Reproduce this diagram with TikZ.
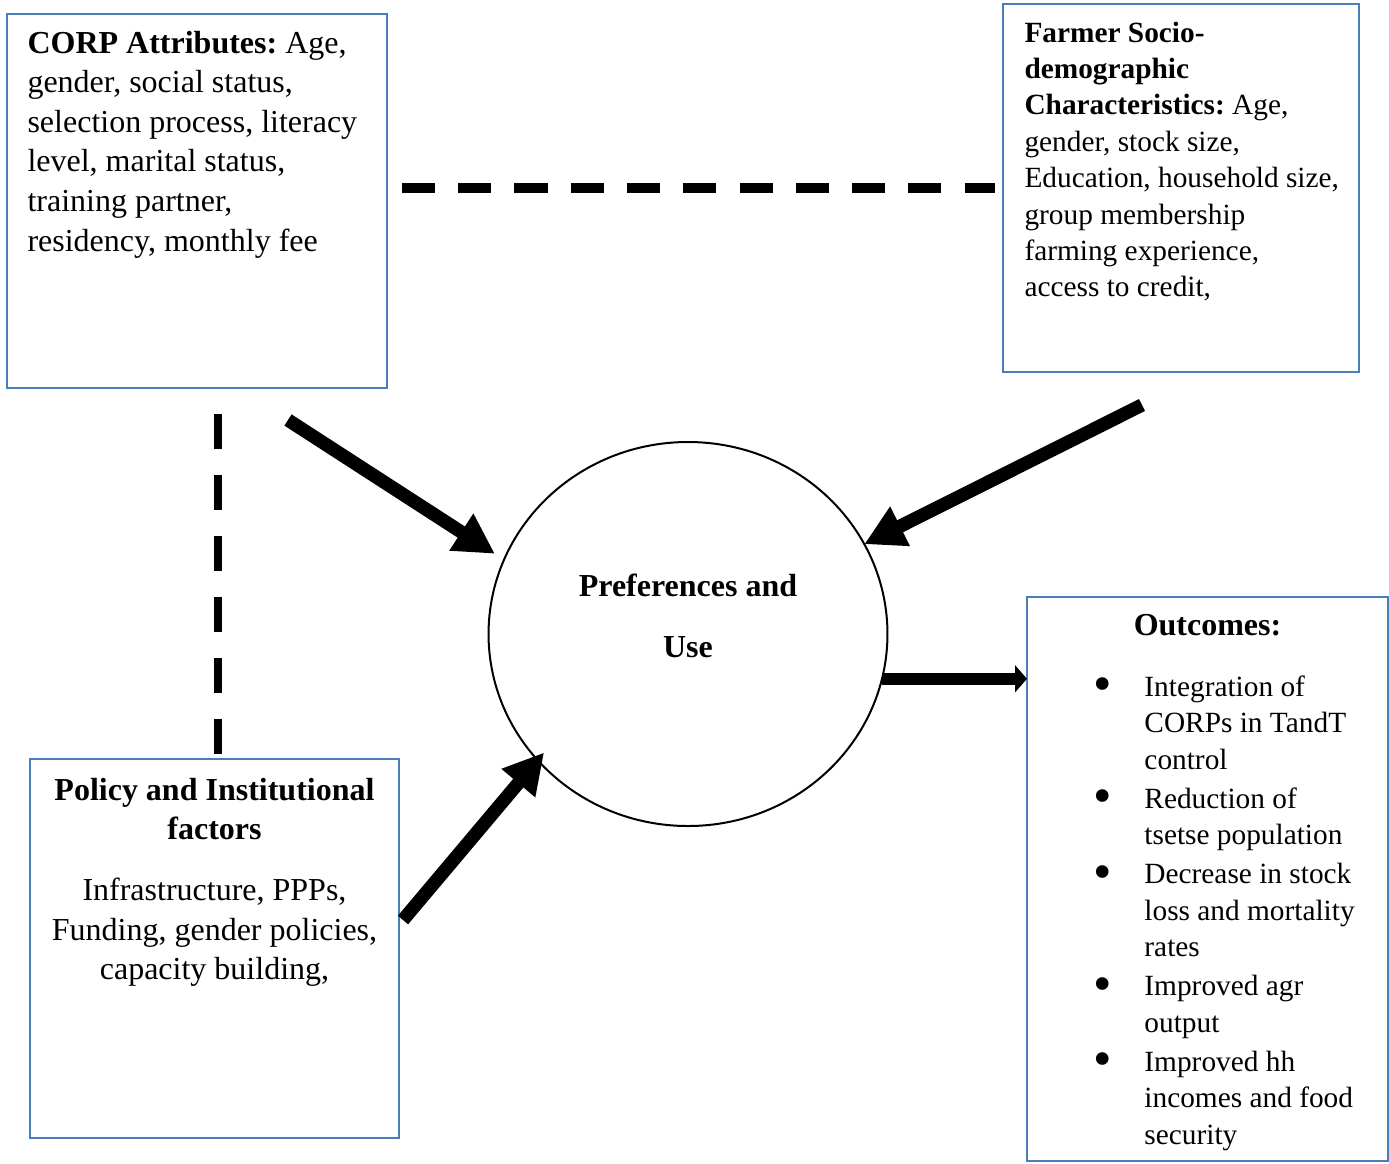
\documentclass[tikz,border=0pt]{standalone}
\usepackage{fontspec}
\setmainfont{Liberation Serif}
\usepackage{xcolor}
\usepackage{graphicx}
\definecolor{cBox}{HTML}{4A7EBB}
\usepackage{tikz}
\usetikzlibrary{positioning,arrows.meta,shapes.geometric}
\newcommand{\outbullet}{\hspace*{-1.5pt}\raisebox{-2.1pt}{\scalebox{1.8}{\textbullet}}}
\frenchspacing
\tikzset{
  frame-box/.style={draw=cBox,line width=0.75pt,anchor=north west,
    inner sep=0pt,outer sep=0pt},
  body-text/.style={inner sep=0pt,anchor=base west,
    font=\fontsize{12pt}{14.85pt}\selectfont},
  hub/.style={draw,ellipse,line width=0.75pt,inner sep=0pt,outer sep=0pt,
    minimum width=149.6pt,minimum height=144pt},
  arrow-big/.style={line width=5pt,-{Triangle[length=15pt,width=15.5pt]}},
  arrow-small/.style={line width=4.5pt,-{Triangle[length=4.5pt,width=10pt]}},
  link-h/.style={line width=3.4pt,dash pattern=on 12.4pt off 8.7pt},
  link-v/.style={line width=3pt,dash pattern=on 13.1pt off 9.75pt},
}

\begin{document}
\frenchspacing
\begin{tikzpicture}[x=0.375pt,y=-0.375pt]
  \useasboundingbox (0,0) rectangle (1389,1163);
  % boxes
  \node[frame-box,minimum width=142.5pt,minimum height=140.25pt] (corp)   at (7,14)    {};
  \node[frame-box,minimum width=133.5pt,minimum height=138pt]    (farmer) at (1003,4)  {};
  \node[frame-box,minimum width=138.4pt,minimum height=142.1pt]  (policy) at (30,759)  {};
  \node[frame-box,minimum width=135.4pt,minimum height=211.5pt]  (out)    at (1027,597) {};
  \node[hub] (pref) at (688,634) {};
  % texts
  \node[body-text] (corp-text) at (27,53) {\begin{tabular}[t]{@{}l@{}}
    \textbf{CORP Attributes:} Age,\\ gender, social status,\\
    selection process, literacy\\ level, marital status,\\
    training partner,\\ residency, monthly fee\end{tabular}};
  \node[body-text,font=\fontsize{11pt}{13.65pt}\selectfont] (farmer-text) at (1024,42) {\begin{tabular}[t]{@{}l@{}}
    \textbf{Farmer Socio-}\\ \textbf{demographic}\\ \textbf{Characteristics:} Age,\\
    gender, stock size,\\ Education, household size,\\ group membership\\
    farming experience,\\ access to credit,\end{tabular}};
  \node[body-text,anchor=base,font=\fontsize{12pt}{14.8pt}\selectfont] (policy-text) at (214.5,800) {\begin{tabular}[t]{@{}c@{}}
    \textbf{Policy and Institutional}\\ \textbf{factors}\\[8.1pt]
    Infrastructure, PPPs,\\ Funding, gender policies,\\ capacity building,\end{tabular}};
  \node[body-text,anchor=base,font=\bfseries\fontsize{12pt}{22.9pt}\selectfont] (pref-text) at (688,596) {\begin{tabular}[t]{@{}c@{}}
    Preferences and\\ Use\end{tabular}};
  \node[body-text,anchor=base,font=\bfseries\fontsize{12pt}{14pt}\selectfont] (out-title) at (1207.5,635) {Outcomes:};
  \node[body-text,font=\fontsize{11pt}{13.7pt}\selectfont] (out-list) at (1097,696) {\begin{tabular}[t]{@{}p{17.6pt}@{}l@{}}
    \outbullet & Integration of\\ & CORPs in TandT\\ & control\\[0.94pt]
    \outbullet & Reduction of\\ & tsetse population\\[0.94pt]
    \outbullet & Decrease in stock\\ & loss and mortality\\ & rates\\[0.94pt]
    \outbullet & Improved agr\\ & output\\[0.94pt]
    \outbullet & Improved hh\\ & incomes and food\\ & security\end{tabular}};
  % links
  \draw[link-h] ([xshift=5.6pt]corp.east |- farmer.west) -- ([xshift=-3pt]farmer.west);
  \draw[link-v] ([xshift=1.3pt,yshift=-9.75pt]corp.south -| policy.north) -- ([xshift=1.3pt,yshift=1.5pt]policy.north);
  % arrows
  \coordinate (corp-tail)   at (288,420);
  \coordinate (farmer-tail) at (1142,405);
  \coordinate (policy-tail) at (403,920);
  \draw[arrow-big,shorten >=4.1pt]  (corp-tail)   -- (pref.158);
  \draw[arrow-big]                  (farmer-tail) -- (pref.27);
  \draw[arrow-big,shorten >=-3.75pt] (policy-tail) -- (pref.220);
  \draw[arrow-small] (pref.-13) -- (pref.-13 -| out.west);
\end{tikzpicture}
\end{document}
